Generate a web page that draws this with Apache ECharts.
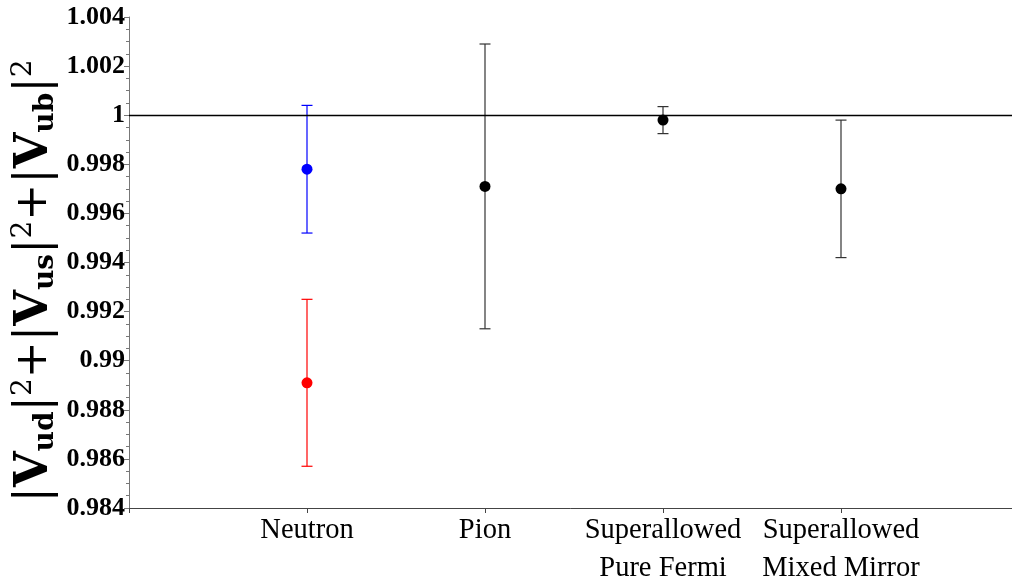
<!DOCTYPE html>
<html>
<head>
<meta charset="utf-8">
<script src="https://cdn.jsdelivr.net/npm/echarts@6/dist/echarts.min.js"></script>
<style>html,body{margin:0;padding:0;background:#fff}#c{width:1012px;height:582px}</style>
</head>
<body>
<div id="c"></div>
<script>
// ---- data ----
const categories = ['Neutron', 'Pion', 'Superallowed\nPure Fermi', 'Superallowed\nMixed Mirror'];
const categoryPositions = [1, 2, 3, 4];
const yTicks = [0.984, 0.986, 0.988, 0.99, 0.992, 0.994, 0.996, 0.998, 1, 1.002, 1.004];
// measurement: x position (category index), central value, uncertainty
const pointX = [1, 1, 2, 3, 4];
const pointValue = [0.9978, 0.9891, 0.9971, 0.9998, 0.9970];
const pointError = [0.0026, 0.0034, 0.0058, 0.00055, 0.0028];
const unitarity = 1;

// ---- styles ----
const pointColors = ['#0000ff', '#ff0000', '#000000', '#000000', '#000000'];
const barColors = ['#0000ff', '#ff0000', '#333333', '#333333', '#333333'];

const serif = '"Liberation Serif", "DejaVu Serif", serif';
const tserif = '"DejaVu Serif", "Liberation Serif", serif';
const chart = echarts.init(document.getElementById('c'));

const pts = pointX.map((x, i) => ({ value: [x, pointValue[i]], itemStyle: { color: pointColors[i], opacity: 1 } }));
const bars = pointX.map((x, i) => ({ value: [x, pointValue[i] - pointError[i], pointValue[i] + pointError[i]] }));

chart.setOption({
  animation: false,
  backgroundColor: '#fff',
  grid: { left: 129, width: 890, top: 17, bottom: 74, containLabel: false, outerBoundsMode: 'none' },
  xAxis: {
    type: 'value', min: 0, max: 5, interval: 1,
    axisLine: { lineStyle: { color: '#444', width: 1 } },
    axisTick: { show: true, length: 5, inside: false, lineStyle: { color: '#444' } },
    splitLine: { show: false },
    axisLabel: {
      margin: 4,
      fontFamily: serif, fontSize: 28.5, color: '#000', lineHeight: 38,
      formatter: v => { const k = categoryPositions.indexOf(v); return k >= 0 ? categories[k] : ''; }
    }
  },
  yAxis: {
    type: 'value', min: yTicks[0], max: yTicks[yTicks.length - 1], interval: 0.002,
    axisLine: { show: true, lineStyle: { color: '#777', width: 1 } },
    axisTick: { show: true, length: 5, lineStyle: { color: '#777' } },
    minorTick: { show: true, splitNumber: 4, length: 3, lineStyle: { color: '#777' } },
    splitLine: { show: false },
    axisLabel: {
      margin: 4, fontFamily: serif, fontWeight: 'bold', fontSize: 26, color: '#000',
      formatter: v => String(+v.toFixed(3))
    }
  },
  graphic: [{
    type: 'text', x: 35, y: 281, rotation: Math.PI / 2,
    style: {
      text: '{b||}{v|V}{sub|ud}{b||}{sup|2}{p|+}{b||}{v|V}{sub|us}{b||}{sup|2}{p|+}{b||}{v|V}{sub|ub}{b||}{sup|2}',
      align: 'center', verticalAlign: 'middle',
      rich: {
        b: { fontFamily: tserif, fontSize: 46, fill: '#000', lineHeight: 50 },
        v: { fontFamily: tserif, fontSize: 46, fontWeight: 'bold', fill: '#000', lineHeight: 50 },
        p: { fontFamily: tserif, fontSize: 44, fill: '#000', lineHeight: 50 },
        sub: { fontFamily: tserif, fontSize: 28, fontWeight: 'bold', fill: '#000', verticalAlign: 'bottom', lineHeight: 28 },
        sup: { fontFamily: tserif, fontSize: 28, fill: '#000', verticalAlign: 'top', lineHeight: 28 }
      }
    }
  }],
  series: [
    {
      type: 'custom',
      data: bars,
      renderItem: (params, api) => {
        const x = api.value(0);
        const lo = api.coord([x, api.value(1)]);
        const hi = api.coord([x, api.value(2)]);
        const c = barColors[params.dataIndex];
        const st = { stroke: c, lineWidth: 1.2 };
        const w = 5.5;
        return {
          type: 'group', children: [
            { type: 'line', shape: { x1: lo[0], y1: lo[1], x2: hi[0], y2: hi[1] }, style: st },
            { type: 'line', shape: { x1: lo[0] - w, y1: lo[1], x2: lo[0] + w, y2: lo[1] }, style: st },
            { type: 'line', shape: { x1: hi[0] - w, y1: hi[1], x2: hi[0] + w, y2: hi[1] }, style: st }
          ]
        };
      },
      z: 2
    },
    {
      type: 'scatter', data: pts, symbol: 'circle', symbolSize: 11, z: 3,
      itemStyle: { opacity: 1 },
      markLine: {
        silent: true, symbol: ['none', 'none'], label: { show: false },
        lineStyle: { color: '#000', width: 1.3, type: 'solid' },
        data: [{ yAxis: unitarity }]
      }
    }
  ]
});
</script>
</body>
</html>
